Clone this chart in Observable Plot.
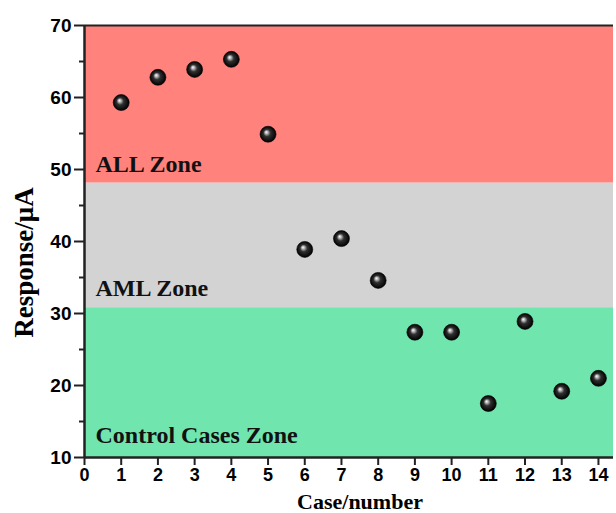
<!DOCTYPE html>
<html>
<head>
<meta charset="utf-8">
<script src="https://cdn.jsdelivr.net/npm/d3@7"></script>
<script src="https://cdn.jsdelivr.net/npm/@observablehq/plot@0.6"></script>
<style>
  html, body { margin: 0; padding: 0; background: #fff; }
</style>
</head>
<body>
<div id="chart"></div>
<script>
// ---- data ----
const cases = [1, 2, 3, 4, 5, 6, 7, 8, 9, 10, 11, 12, 13, 14];
const responses = [59.3, 62.8, 63.9, 65.3, 54.9, 38.9, 40.4, 34.6, 27.4, 27.4, 17.5, 28.9, 19.2, 21.0];

const zoneNames = ["ALL Zone", "AML Zone", "Control Cases Zone"];
const zoneLow = [48.1, 30.8, 10];
const zoneHigh = [70, 48.1, 30.8];
const zoneColors = ["#FF827D", "#D3D3D3", "#71E5AE"];

const xTicks = [0, 1, 2, 3, 4, 5, 6, 7, 8, 9, 10, 11, 12, 13, 14];
const yTicks = [10, 20, 30, 40, 50, 60, 70];
const yMinorTicks = [15, 25, 35, 45, 55, 65];
const xDomain = [0, 14.41];
const yDomain = [10, 70];

const xTitle = "Case/number";
const yTitle = "Response/\u03BCA";

// ---- build ----
const points = cases.map((c, i) => ({case: c, response: responses[i]}));
const zones = zoneNames.map((n, i) => ({name: n, lo: zoneLow[i], hi: zoneHigh[i], color: zoneColors[i]}));

const serif = "'Liberation Serif', 'Times New Roman', serif";
const labelStyle = {x: xDomain[0], y: "lo", text: "name", textAnchor: "start", lineAnchor: "bottom", dx: 11,
  fontFamily: serif, fontWeight: "bold", fontSize: 24, fill: "#111"};
const labelOffsets = [-11, -12, -15];

const chart = Plot.plot({
  width: 616,
  height: 513,
  marginLeft: 84,
  marginRight: 3,
  marginTop: 25,
  marginBottom: 56,
  style: {fontFamily: "'Liberation Sans', Arial, sans-serif", fontWeight: "bold", fontSize: "19px", color: "#000", background: "#fff"},
  x: {domain: xDomain, label: null},
  y: {domain: yDomain, label: null},
  marks: [
    Plot.rect(zones, {x1: xDomain[0], x2: xDomain[1], y1: "lo", y2: "hi", fill: "color"}),
    ...labelOffsets.map((off, i) => Plot.text([zones[i]], {...labelStyle, dy: off})),
    Plot.ruleY([yDomain[1]], {stroke: "#222", strokeWidth: 2}),
    Plot.axisY({ticks: yMinorTicks, tickSize: 5, text: null, strokeWidth: 2, stroke: "#222"}),
    Plot.axisY({ticks: yTicks, tickSize: 10, tickPadding: 3, strokeWidth: 2, stroke: "#222", fontSize: 19, fontWeight: "bold"}),
    Plot.axisX({ticks: xTicks, tickSize: 8, tickPadding: 3, strokeWidth: 2, stroke: "#222", fontSize: 18, fontWeight: "bold"}),
    Plot.ruleX([xDomain[0]], {stroke: "#222", strokeWidth: 2.5}),
    Plot.ruleY([yDomain[0]], {stroke: "#222", strokeWidth: 2.5}),
    Plot.dot(points, {x: "case", y: "response", r: 8, fill: "url(#sphere)", stroke: "#000", strokeWidth: 0.6}),
    Plot.text([yTitle], {frameAnchor: "left", rotate: -90, textAnchor: "middle", lineAnchor: "middle", dx: -60, dy: 21,
      fontFamily: serif, fontWeight: "bold", fontSize: 27, fill: "#000"}),
    Plot.text([xTitle], {frameAnchor: "bottom", textAnchor: "middle", lineAnchor: "bottom", dx: 11, dy: 51,
      fontFamily: serif, fontWeight: "bold", fontSize: 22, fill: "#000"})
  ]
});

// sphere gradient definition
const ns = "http://www.w3.org/2000/svg";
const defs = document.createElementNS(ns, "defs");
defs.innerHTML = `<radialGradient id="sphere" cx="0.5" cy="0.5" r="0.5" fx="0.38" fy="0.36">
  <stop offset="0" stop-color="#ffffff"/>
  <stop offset="0.18" stop-color="#b8b8b8"/>
  <stop offset="0.45" stop-color="#303030"/>
  <stop offset="1" stop-color="#000000"/>
</radialGradient>`;
chart.insertBefore(defs, chart.firstChild);

document.getElementById("chart").appendChild(chart);
</script>
</body>
</html>
